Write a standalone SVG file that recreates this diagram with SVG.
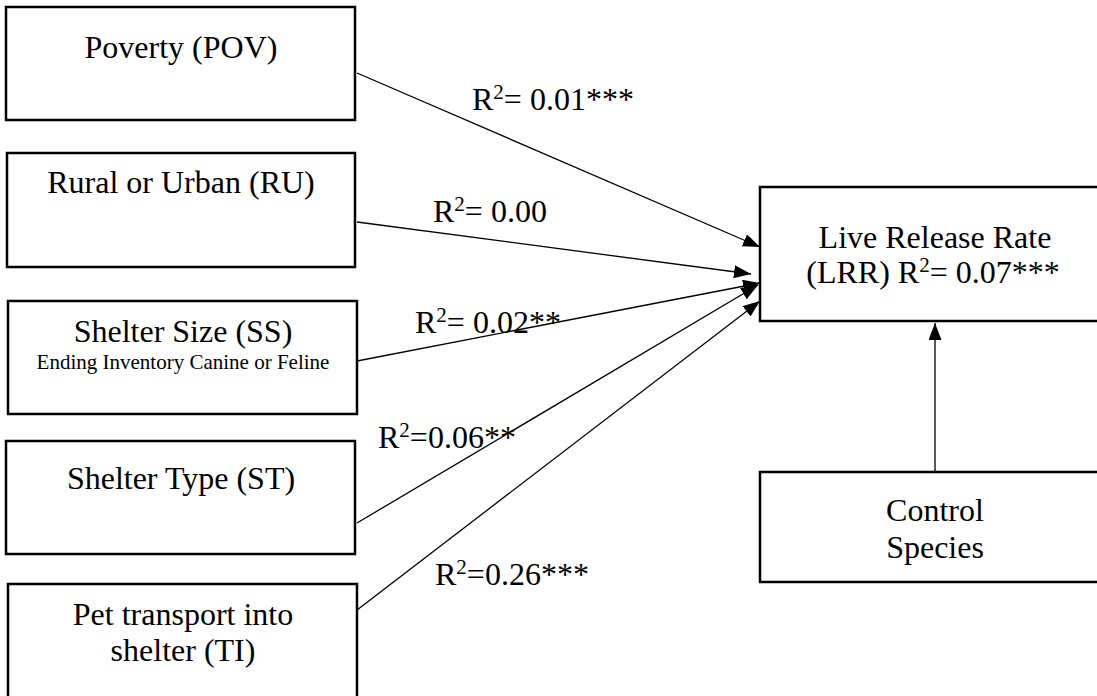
<svg xmlns="http://www.w3.org/2000/svg" width="1097" height="696" viewBox="0 0 1097 696">
<defs>
<style>
.box{fill:#fff;stroke:#000;stroke-width:2.5}
.t{font-family:"Liberation Serif","Times New Roman",serif;font-size:32px;fill:#000;text-anchor:middle}
.s{font-family:"Liberation Serif","Times New Roman",serif;font-size:21px;fill:#000;text-anchor:middle}
.lab{font-family:"Liberation Serif","Times New Roman",serif;font-size:32px;fill:#000}
.sup{font-size:21px}
.c{stroke:#000;stroke-width:1.3;fill:none;marker-end:url(#ah)}
</style>
<marker id="ah" markerUnits="userSpaceOnUse" markerWidth="17" markerHeight="13" refX="17" refY="6.5" orient="auto">
<path d="M0,0 L17,6.5 L0,13 z" fill="#000"/>
</marker>
</defs>
<rect width="1097" height="696" fill="#fff"/>
<g id="connectors">
<line class="c" x1="357" y1="73" x2="760" y2="247"/>
<line class="c" x1="357" y1="222" x2="751" y2="274"/>
<line class="c" x1="357" y1="361" x2="760" y2="283"/>
<line class="c" x1="357" y1="523" x2="758" y2="285"/>
<line class="c" x1="357" y1="610" x2="760" y2="301"/>
<line class="c" x1="935" y1="472" x2="935" y2="323"/>
</g>
<g id="labels">
<text class="lab" x="472" y="110">R<tspan class="sup" dy="-11">2</tspan><tspan dy="11">= 0.01***</tspan></text>
<text class="lab" x="433" y="222">R<tspan class="sup" dy="-11">2</tspan><tspan dy="11">= 0.00</tspan></text>
<text class="lab" x="415" y="333">R<tspan class="sup" dy="-11">2</tspan><tspan dy="11">= 0.02**</tspan></text>
<text class="lab" x="378" y="448">R<tspan class="sup" dy="-11">2</tspan><tspan dy="11">=0.06**</tspan></text>
<text class="lab" x="435" y="585">R<tspan class="sup" dy="-11">2</tspan><tspan dy="11">=0.26***</tspan></text>
</g>
<g id="pov">
<rect class="box" x="6" y="7" width="349" height="113"/>
<text class="t" x="181" y="58">Poverty (POV)</text>
</g>
<g id="ru">
<rect class="box" x="7" y="153" width="348" height="114"/>
<text class="t" x="181" y="193">Rural or Urban (RU)</text>
</g>
<g id="ss">
<rect class="box" x="8" y="301" width="349" height="113"/>
<text class="t" x="183" y="342">Shelter Size (SS)</text>
<text class="s" x="183" y="369">Ending Inventory Canine or Feline</text>
</g>
<g id="st">
<rect class="box" x="6" y="441" width="349" height="113"/>
<text class="t" x="181" y="489">Shelter Type (ST)</text>
</g>
<g id="ti">
<rect class="box" x="8" y="584" width="349" height="130"/>
<text class="t" x="183" y="625">Pet transport into</text>
<text class="t" x="183" y="661">shelter (TI)</text>
</g>
<g id="lrr">
<rect class="box" x="760" y="187" width="350" height="134"/>
<text class="t" x="935" y="248">Live Release Rate</text>
<text class="t" x="933" y="283">(LRR) R<tspan class="sup" dy="-11">2</tspan><tspan dy="11">= 0.07***</tspan></text>
</g>
<g id="control">
<rect class="box" x="760" y="472" width="350" height="110"/>
<text class="t" x="935" y="521">Control</text>
<text class="t" x="935" y="558">Species</text>
</g>
</svg>
